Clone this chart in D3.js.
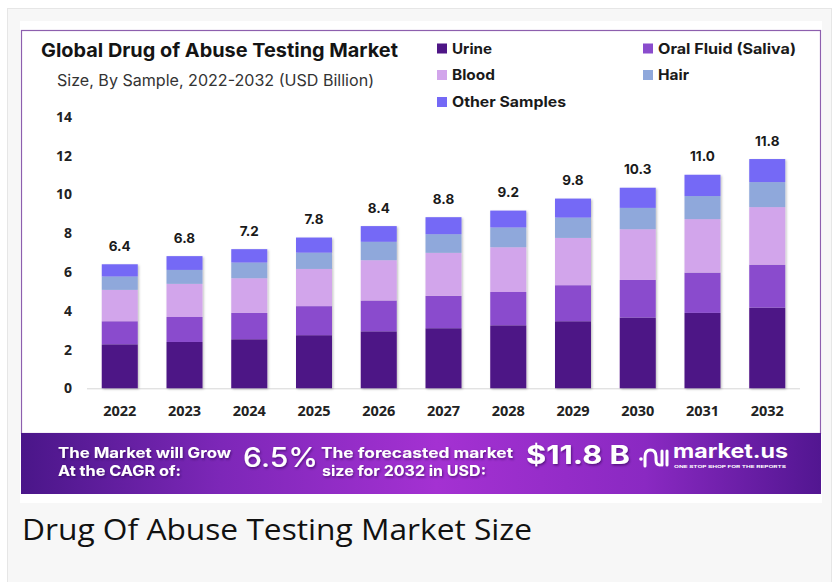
<!DOCTYPE html>
<html>
<head>
<meta charset="utf-8">
<script src="https://cdn.jsdelivr.net/npm/d3@7"></script>
<style>
  html, body { margin: 0; padding: 0; background: #ffffff; }
  svg { display: block; }
</style>
</head>
<body>
<div id="wrapper"></div>
<script>
// chart values
const years = ["2022", "2023", "2024", "2025", "2026", "2027", "2028", "2029", "2030", "2031", "2032"]
const urine = [2.27, 2.39, 2.53, 2.74, 2.94, 3.10, 3.25, 3.46, 3.65, 3.89, 4.16]
const oralFluid = [1.19, 1.29, 1.36, 1.50, 1.59, 1.67, 1.72, 1.86, 1.94, 2.08, 2.22]
const blood = [1.62, 1.71, 1.79, 1.92, 2.08, 2.22, 2.31, 2.44, 2.62, 2.76, 2.97]
const hair = [0.69, 0.72, 0.81, 0.84, 0.95, 0.96, 1.02, 1.05, 1.10, 1.19, 1.29]
const otherSamples = [0.63, 0.71, 0.69, 0.78, 0.81, 0.88, 0.87, 0.98, 1.04, 1.10, 1.19]
const totalLabels = ["6.4", "6.8", "7.2", "7.8", "8.4", "8.8", "9.2", "9.8", "10.3", "11.0", "11.8"]
const seriesNames = ["Urine", "Oral Fluid (Saliva)", "Blood", "Hair", "Other Samples"]
const yTicks = [0, 2, 4, 6, 8, 10, 12, 14]

const seriesColors = ["#4e1686", "#8a4ccd", "#d2a5eb", "#8fa8db", "#7469f6"]

function drawChart() {
    const width = 838
    const height = 582

    const svg = d3.select("#wrapper")
        .append("svg")
            .attr("width", width)
            .attr("height", height)

    const defs = svg.append("defs")

    // banner gradient
    const grad = defs.append("linearGradient")
        .attr("id", "bannerGrad")
        .attr("x1", "0%").attr("x2", "100%").attr("y1", "0%").attr("y2", "0%")
    const stops = [[0, "#4a1689"], [0.25, "#7d27b8"], [0.52, "#a431d2"], [0.78, "#8a29c2"], [1, "#521691"]]
    stops.forEach(s => grad.append("stop").attr("offset", s[0]).attr("stop-color", s[1]))

    // soft shadow for bars
    const shadow = defs.append("filter").attr("id", "barShadow")
        .attr("x", "-10%").attr("y", "-10%").attr("width", "130%").attr("height", "130%")
    shadow.append("feDropShadow")
        .attr("dx", 1.2).attr("dy", 1).attr("stdDeviation", 0.9)
        .attr("flood-color", "#000").attr("flood-opacity", 0.25)

    const textShadow = defs.append("filter").attr("id", "textShadow")
        .attr("x", "-10%").attr("y", "-30%").attr("width", "120%").attr("height", "160%")
    textShadow.append("feDropShadow")
        .attr("dx", 1).attr("dy", 1.5).attr("stdDeviation", 1.2)
        .attr("flood-color", "#2a0050").attr("flood-opacity", 0.6)

    // page frame
    svg.append("rect")
        .attr("x", 7.5).attr("y", 8.5).attr("width", 824).attr("height", 600)
        .attr("fill", "#f7f7f7").attr("stroke", "#e6e6e6")

    // image area
    svg.append("rect")
        .attr("x", 20).attr("y", 21).attr("width", 802).attr("height", 482)
        .attr("fill", "#ffffff")

    // purple frame around the chart
    svg.append("rect")
        .attr("x", 21.5).attr("y", 30.5).attr("width", 799).attr("height", 403)
        .attr("fill", "#ffffff").attr("stroke", "#8d5fae").attr("stroke-width", 1.2)

    // titles
    svg.append("text")
        .attr("x", 41).attr("y", 57)
        .attr("font-family", "Inter, 'DejaVu Sans', sans-serif")
        .attr("font-weight", 700).attr("font-size", 19)
        .attr("fill", "#141414")
        .attr("textLength", 357).attr("lengthAdjust", "spacingAndGlyphs")
        .text("Global Drug of Abuse Testing Market")

    svg.append("text")
        .attr("x", 57).attr("y", 86)
        .attr("font-family", "Inter, 'DejaVu Sans', sans-serif")
        .attr("font-weight", 400).attr("font-size", 15.5)
        .attr("fill", "#333")
        .attr("textLength", 317).attr("lengthAdjust", "spacingAndGlyphs")
        .text("Size, By Sample, 2022-2032 (USD Billion)")

    // legend
    const legendPos = [[437, 48.5], [643, 48.5], [437, 75], [643, 75], [437, 102]]
    const legendWidths = [40, 138, 43, 31, 114]
    const legend = svg.append("g")
    seriesNames.forEach((name, i) => {
        const g = legend.append("g").attr("transform", `translate(${legendPos[i][0]},${legendPos[i][1]})`)
        g.append("rect").attr("x", 0).attr("y", -5).attr("width", 10).attr("height", 10)
            .attr("fill", seriesColors[i])
        g.append("text").attr("x", 15).attr("y", 5)
            .attr("font-family", "Inter, 'DejaVu Sans', sans-serif")
            .attr("font-weight", 700).attr("font-size", 14.5)
            .attr("fill", "#1a1a1a")
            .attr("textLength", legendWidths[i]).attr("lengthAdjust", "spacingAndGlyphs")
            .text(name)
    })

    // scales
    const xScale = d3.scaleBand()
        .domain(years)
        .range([87, 800])
        .paddingInner(0.444)
        .paddingOuter(0.228)

    const yScale = d3.scaleLinear()
        .domain([0, 14])
        .range([388.3, 117])

    // stacked data
    const table = years.map((y, i) => ({
        year: y,
        "Urine": urine[i],
        "Oral Fluid (Saliva)": oralFluid[i],
        "Blood": blood[i],
        "Hair": hair[i],
        "Other Samples": otherSamples[i],
        label: totalLabels[i]
    }))
    const stacked = d3.stack().keys(seriesNames)(table)

    // baseline
    svg.append("line")
        .attr("x1", xScale.range()[0]).attr("x2", xScale.range()[1])
        .attr("y1", yScale(0) + 0.5).attr("y2", yScale(0) + 0.5)
        .attr("stroke", "#d6d6d6").attr("stroke-width", 1)

    // bars: one group per year so the shadow wraps the whole column
    const barGroups = svg.append("g").selectAll("g.bar")
        .data(table)
        .join("g")
            .attr("class", "bar")
            .attr("filter", "url(#barShadow)")

    barGroups.each(function (d, i) {
        d3.select(this).selectAll("rect")
            .data(stacked.map((s, k) => ({ seg: s[i], color: seriesColors[k] })))
            .join("rect")
                .attr("x", xScale(d.year))
                .attr("width", xScale.bandwidth())
                .attr("y", s => yScale(s.seg[1]))
                .attr("height", s => yScale(s.seg[0]) - yScale(s.seg[1]))
                .attr("fill", s => s.color)
    })

    // totals above bars
    svg.append("g").selectAll("text")
        .data(stacked[stacked.length - 1])
        .join("text")
            .attr("x", (d, i) => xScale(years[i]) + xScale.bandwidth() / 2)
            .attr("y", d => yScale(d[1]) - 13.5)
            .attr("text-anchor", "middle")
            .attr("font-family", "Inter, 'DejaVu Sans', sans-serif")
            .attr("font-weight", 700).attr("font-size", 13.5)
            .attr("fill", "#1a1a1a")
            .text((d, i) => totalLabels[i])

    // y axis
    const yAxis = svg.append("g")
        .attr("transform", "translate(75,0)")
        .call(d3.axisLeft(yScale).tickValues(yTicks).tickSize(0).tickPadding(3))
    yAxis.select(".domain").remove()
    yAxis.selectAll("text")
        .attr("font-family", "'Open Sans', sans-serif")
        .attr("font-weight", 700).attr("font-size", 14)
        .attr("fill", "#222")

    // x axis
    const xAxis = svg.append("g")
        .attr("transform", `translate(0,${yScale(0)})`)
        .call(d3.axisBottom(xScale).tickSize(0).tickPadding(17))
    xAxis.select(".domain").remove()
    xAxis.selectAll("text")
        .attr("font-family", "'Open Sans', sans-serif")
        .attr("font-weight", 700).attr("font-size", 14.5)
        .attr("fill", "#222")

    // bottom banner
    svg.append("rect")
        .attr("x", 21).attr("y", 433).attr("width", 800).attr("height", 61)
        .attr("fill", "url(#bannerGrad)")

    const banner = svg.append("g")
        .attr("font-family", "Inter, 'DejaVu Sans', sans-serif")
        .attr("fill", "#ffffff")
        .attr("filter", "url(#textShadow)")

    const bannerText = (x, y, size, weight, str, len) => {
        const t = banner.append("text")
            .attr("x", x).attr("y", y)
            .attr("font-size", size).attr("font-weight", weight)
            .text(str)
        if (len) t.attr("textLength", len).attr("lengthAdjust", "spacingAndGlyphs")
        return t
    }
    bannerText(58, 457.5, 14.5, 700, "The Market will Grow", 173)
    bannerText(58, 475.5, 14.5, 700, "At the CAGR of:", 123)
    bannerText(243, 467, 27, 500, "6.5%", 75)
    bannerText(321, 457.5, 14.5, 700, "The forecasted market", 192)
    bannerText(322, 475.5, 14.5, 700, "size for 2032 in USD:", 164)
    bannerText(526, 464, 25, 700, "$11.8 B", 104)

    // market.us logo
    const logo = svg.append("g").attr("fill", "none").attr("stroke", "#ffffff")
        .attr("stroke-linecap", "round")
    logo.append("circle").attr("cx", 641).attr("cy", 459).attr("r", 1.8)
        .attr("fill", "#ffffff").attr("stroke", "none")
    logo.append("path")
        .attr("d", "M645,466 L645,457 Q645,450 650.5,450 Q656,450 656,457 L656,460 Q656,465 660,465")
        .attr("stroke-width", 3)
    logo.append("path").attr("d", "M662,451 L662,465").attr("stroke-width", 3)
    logo.append("path").attr("d", "M667,451 L667,465").attr("stroke-width", 3)

    svg.append("text")
        .attr("x", 673).attr("y", 458)
        .attr("font-family", "Inter, 'DejaVu Sans', sans-serif")
        .attr("font-weight", 700).attr("font-size", 20)
        .attr("fill", "#ffffff")
        .attr("textLength", 115).attr("lengthAdjust", "spacingAndGlyphs")
        .text("market.us")
    svg.append("text")
        .attr("x", 674).attr("y", 468)
        .attr("font-family", "Inter, 'DejaVu Sans', sans-serif")
        .attr("font-weight", 700).attr("font-size", 4)
        .attr("fill", "#ffffff")
        .attr("textLength", 112).attr("lengthAdjust", "spacingAndGlyphs")
        .text("ONE STOP SHOP FOR THE REPORTS")

    // caption below the image
    svg.append("text")
        .attr("x", 22).attr("y", 540)
        .attr("font-family", "'Open Sans', sans-serif")
        .attr("font-weight", 400).attr("font-size", 30)
        .attr("fill", "#111")
        .attr("textLength", 510).attr("lengthAdjust", "spacingAndGlyphs")
        .text("Drug Of Abuse Testing Market Size")
}

drawChart()
</script>
</body>
</html>
